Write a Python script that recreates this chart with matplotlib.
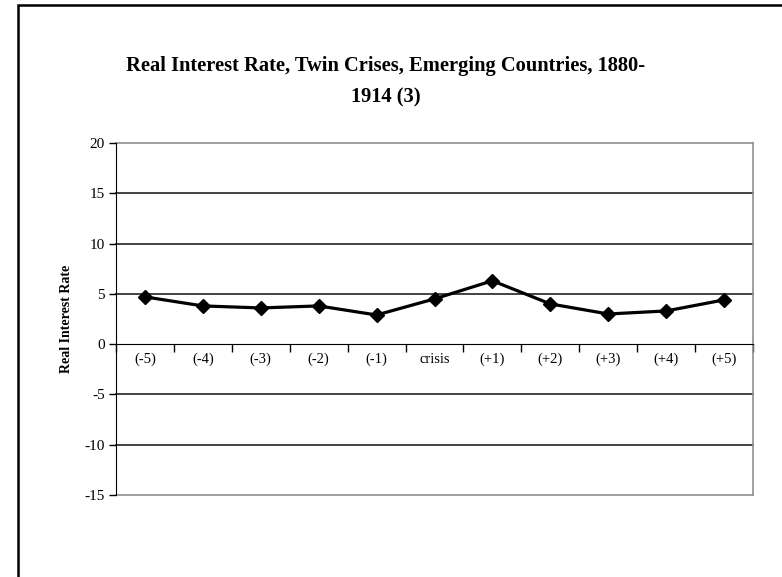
import matplotlib
matplotlib.use("Agg")
import matplotlib.pyplot as plt
from matplotlib.patches import Rectangle

categories = ["(-5)", "(-4)", "(-3)", "(-2)", "(-1)", "crisis", "(+1)", "(+2)", "(+3)", "(+4)", "(+5)"]
values = [4.7, 3.8, 3.6, 3.8, 2.9, 4.5, 6.3, 4.0, 3.0, 3.3, 4.4]
yticks = [-15, -10, -5, 0, 5, 10, 15, 20]

plt.rcParams['font.family'] = ['Liberation Serif', 'DejaVu Serif']

fig = plt.figure(figsize=(7.82, 5.77), dpi=100)
ax = fig.add_axes([116/782, 82/577, (753-116)/782, (495-143)/577])

x = list(range(len(categories)))
ax.set_xlim(-0.5, len(categories) - 0.5)
ax.set_ylim(-15, 20)

for yv in yticks:
    col = '#909090' if yv in (-15, 20) else '#222222'
    if yv != 0:
        ax.axhline(yv, color=col, lw=1.2, zorder=1, clip_on=False)

ax.plot(x, values, color='black', lw=2.3, marker='D', markersize=7, zorder=3)

ax.spines['top'].set_visible(False)
ax.spines['right'].set_color('#909090')
ax.spines['right'].set_linewidth(1.2)
ax.spines['left'].set_color('black')
ax.spines['bottom'].set_position(('data', 0))
ax.spines['bottom'].set_color('black')

ax.set_xticks([i - 0.5 for i in range(len(categories) + 1)])
ax.set_xticklabels([])
ax.tick_params(axis='x', direction='out', length=6, width=1, color='black')
ax.set_yticks(yticks)
ax.set_yticklabels([str(v) for v in yticks], fontsize=11)
ax.tick_params(axis='y', direction='out', length=5, width=1, color='black', pad=3)

for i, c in enumerate(categories):
    ax.text(i, -1.55, c, ha='center', va='center', fontsize=10.5)

ax.set_ylabel("Real Interest Rate", fontsize=10, fontweight='bold', labelpad=8)

fig.text(386/782, 1 - 66/577, "Real Interest Rate, Twin Crises, Emerging Countries, 1880-",
         ha='center', va='center', fontsize=14.8, fontweight='bold')
fig.text(386/782, 1 - 97/577, "1914 (3)",
         ha='center', va='center', fontsize=14.8, fontweight='bold')

fig.patches.append(Rectangle((18/782, -0.1), 1.2, 1 - 5/577 + 0.1, transform=fig.transFigure,
                             fill=False, edgecolor='black', lw=1.8))

fig.savefig("out.png", dpi=100)
